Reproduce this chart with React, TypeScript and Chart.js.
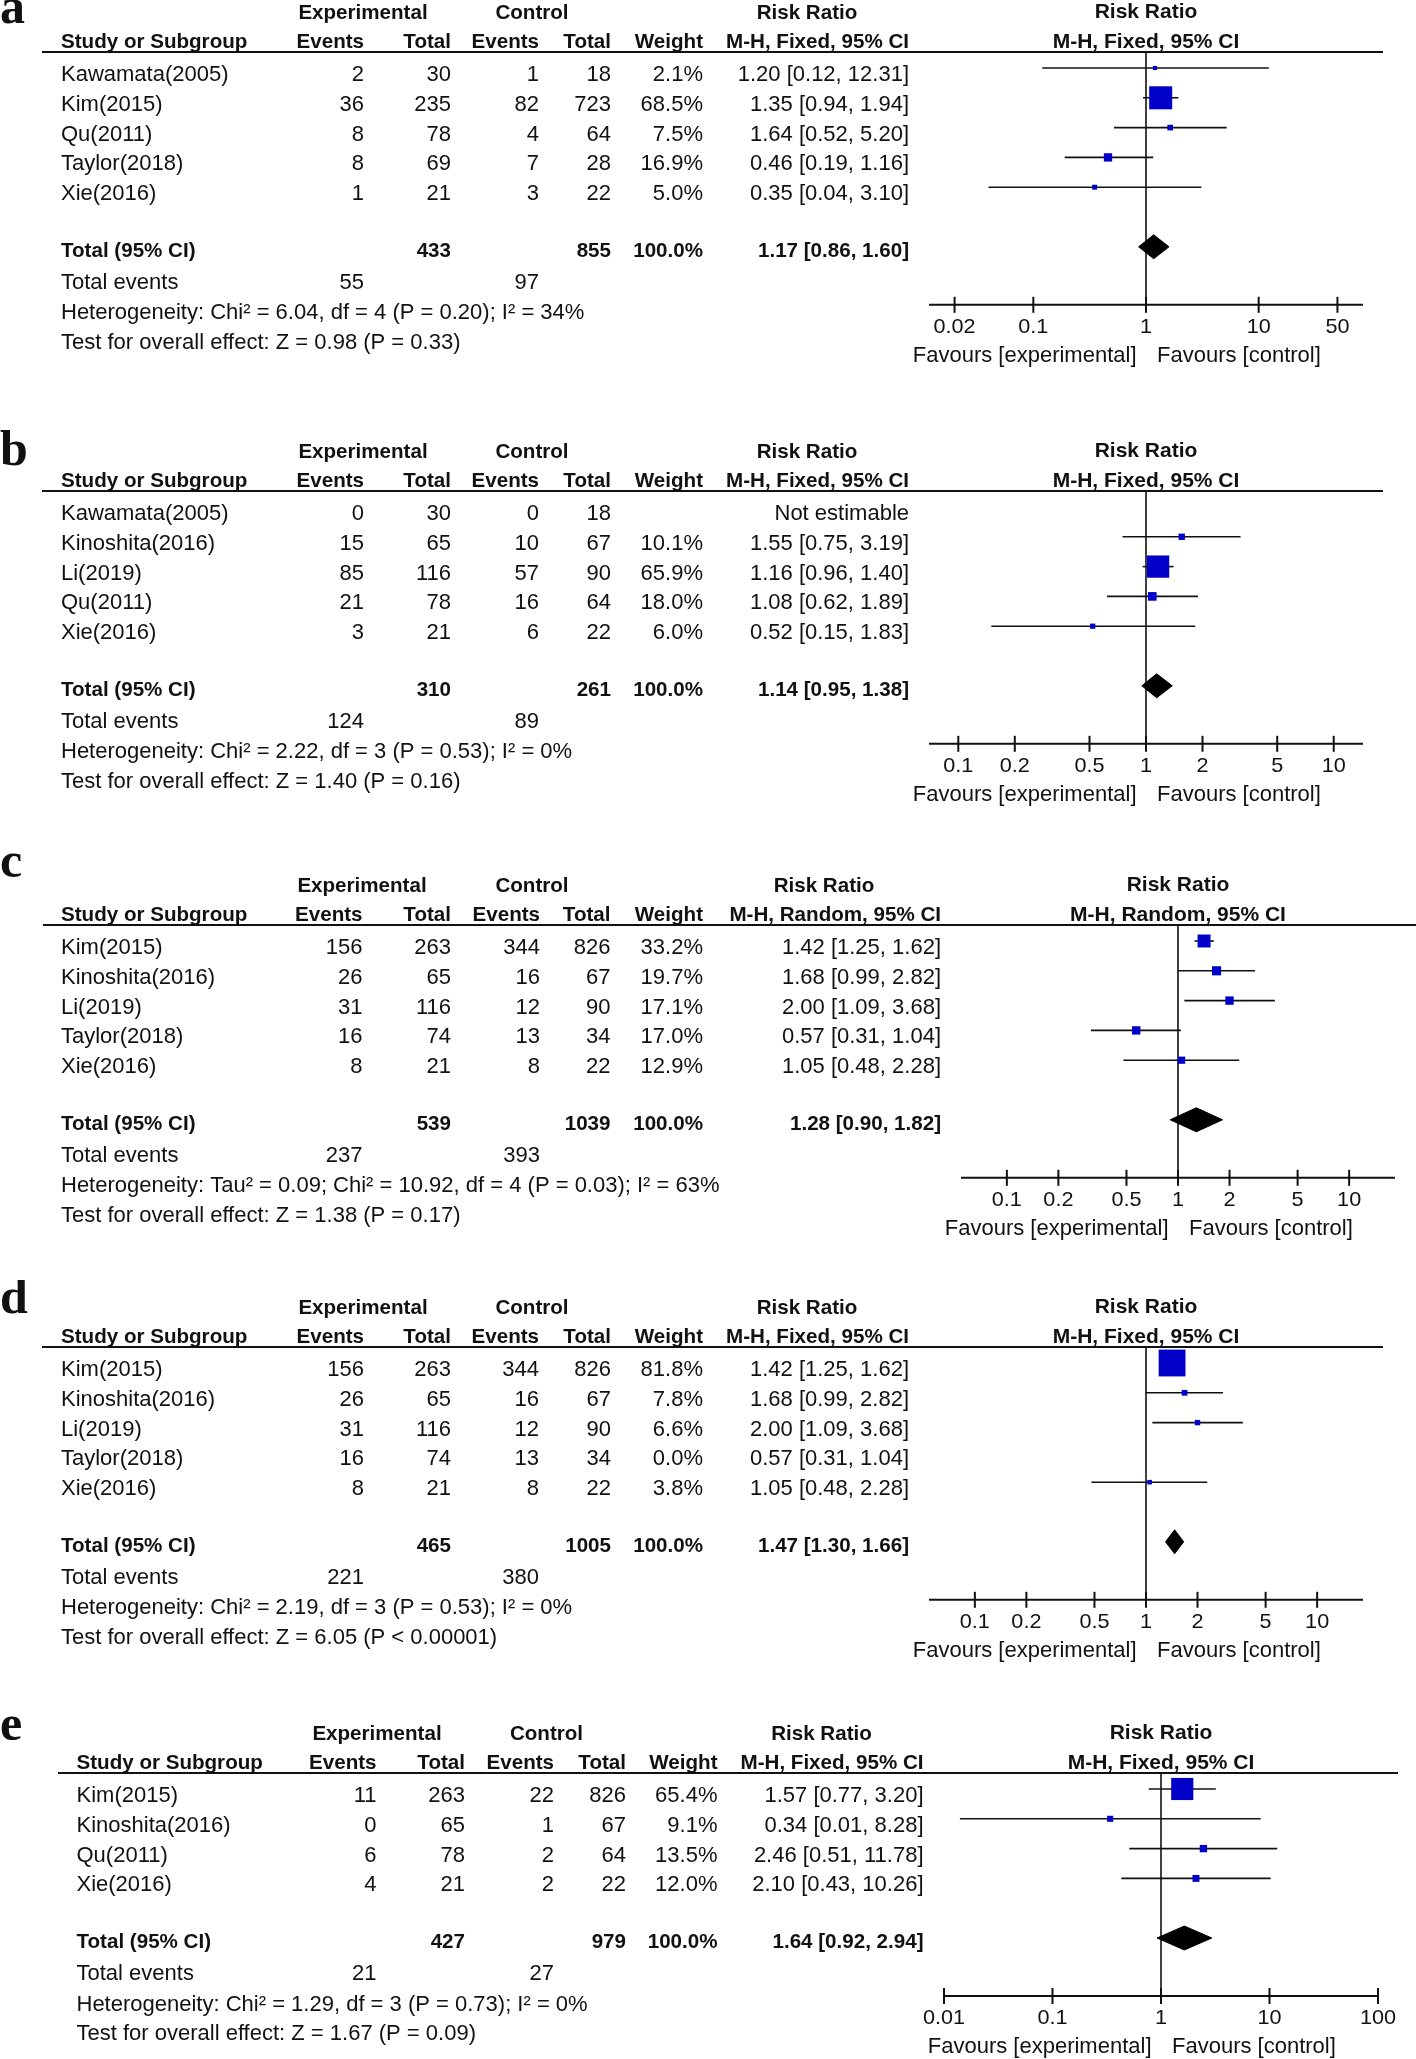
import React, { useEffect, useRef } from 'react';
import { Chart, registerables } from 'chart.js';

Chart.register(...registerables);

// ---------------- DATA ----------------
// Panel a
const aStudies = ['Kawamata(2005)', 'Kim(2015)', 'Qu(2011)', 'Taylor(2018)', 'Xie(2016)'];
const aExpEvents = [2, 36, 8, 8, 1];
const aExpTotal = [30, 235, 78, 69, 21];
const aCtlEvents = [1, 82, 4, 7, 3];
const aCtlTotal = [18, 723, 64, 28, 22];
const aWeight = [2.1, 68.5, 7.5, 16.9, 5.0];
const aRR = [1.2, 1.35, 1.64, 0.46, 0.35];
const aLow = [0.12, 0.94, 0.52, 0.19, 0.04];
const aHigh = [12.31, 1.94, 5.2, 1.16, 3.1];
const aPooled = [1.17, 0.86, 1.6];
const aTotals = [433, 855];
const aTotalEvents = [55, 97];
const aHeterogeneity = 'Heterogeneity: Chi² = 6.04, df = 4 (P = 0.20); I² = 34%';
const aOverall = 'Test for overall effect: Z = 0.98 (P = 0.33)';
const aTicks = [0.02, 0.1, 1, 10, 50];

// Panel b
const bStudies = ['Kawamata(2005)', 'Kinoshita(2016)', 'Li(2019)', 'Qu(2011)', 'Xie(2016)'];
const bExpEvents = [0, 15, 85, 21, 3];
const bExpTotal = [30, 65, 116, 78, 21];
const bCtlEvents = [0, 10, 57, 16, 6];
const bCtlTotal = [18, 67, 90, 64, 22];
const bWeight = [null, 10.1, 65.9, 18.0, 6.0];
const bRR = [null, 1.55, 1.16, 1.08, 0.52];
const bLow = [null, 0.75, 0.96, 0.62, 0.15];
const bHigh = [null, 3.19, 1.4, 1.89, 1.83];
const bPooled = [1.14, 0.95, 1.38];
const bTotals = [310, 261];
const bTotalEvents = [124, 89];
const bHeterogeneity = 'Heterogeneity: Chi² = 2.22, df = 3 (P = 0.53); I² = 0%';
const bOverall = 'Test for overall effect: Z = 1.40 (P = 0.16)';
const bTicks = [0.1, 0.2, 0.5, 1, 2, 5, 10];

// Panel c
const cStudies = ['Kim(2015)', 'Kinoshita(2016)', 'Li(2019)', 'Taylor(2018)', 'Xie(2016)'];
const cExpEvents = [156, 26, 31, 16, 8];
const cExpTotal = [263, 65, 116, 74, 21];
const cCtlEvents = [344, 16, 12, 13, 8];
const cCtlTotal = [826, 67, 90, 34, 22];
const cWeight = [33.2, 19.7, 17.1, 17.0, 12.9];
const cRR = [1.42, 1.68, 2.0, 0.57, 1.05];
const cLow = [1.25, 0.99, 1.09, 0.31, 0.48];
const cHigh = [1.62, 2.82, 3.68, 1.04, 2.28];
const cPooled = [1.28, 0.9, 1.82];
const cTotals = [539, 1039];
const cTotalEvents = [237, 393];
const cHeterogeneity = 'Heterogeneity: Tau² = 0.09; Chi² = 10.92, df = 4 (P = 0.03); I² = 63%';
const cOverall = 'Test for overall effect: Z = 1.38 (P = 0.17)';
const cTicks = [0.1, 0.2, 0.5, 1, 2, 5, 10];

// Panel d
const dStudies = ['Kim(2015)', 'Kinoshita(2016)', 'Li(2019)', 'Taylor(2018)', 'Xie(2016)'];
const dExpEvents = [156, 26, 31, 16, 8];
const dExpTotal = [263, 65, 116, 74, 21];
const dCtlEvents = [344, 16, 12, 13, 8];
const dCtlTotal = [826, 67, 90, 34, 22];
const dWeight = [81.8, 7.8, 6.6, 0.0, 3.8];
const dRR = [1.42, 1.68, 2.0, 0.57, 1.05];
const dLow = [1.25, 0.99, 1.09, 0.31, 0.48];
const dHigh = [1.62, 2.82, 3.68, 1.04, 2.28];
const dPooled = [1.47, 1.3, 1.66];
const dTotals = [465, 1005];
const dTotalEvents = [221, 380];
const dHeterogeneity = 'Heterogeneity: Chi² = 2.19, df = 3 (P = 0.53); I² = 0%';
const dOverall = 'Test for overall effect: Z = 6.05 (P < 0.00001)';
const dTicks = [0.1, 0.2, 0.5, 1, 2, 5, 10];

// Panel e
const eStudies = ['Kim(2015)', 'Kinoshita(2016)', 'Qu(2011)', 'Xie(2016)'];
const eExpEvents = [11, 0, 6, 4];
const eExpTotal = [263, 65, 78, 21];
const eCtlEvents = [22, 1, 2, 2];
const eCtlTotal = [826, 67, 64, 22];
const eWeight = [65.4, 9.1, 13.5, 12.0];
const eRR = [1.57, 0.34, 2.46, 2.1];
const eLow = [0.77, 0.014, 0.51, 0.43];
const eHigh = [3.2, 8.28, 11.78, 10.26];
const ePooled = [1.64, 0.92, 2.94];
const eTotals = [427, 979];
const eTotalEvents = [21, 27];
const eHeterogeneity = 'Heterogeneity: Chi² = 1.29, df = 3 (P = 0.73); I² = 0%';
const eOverall = 'Test for overall effect: Z = 1.67 (P = 0.09)';
const eTicks = [0.01, 0.1, 1, 10, 100];

const FIXED = 'M-H, Fixed, 95% CI';
const RANDOM = 'M-H, Random, 95% CI';

type PanelData = {
  letter: string;
  method: string;
  studies: string[];
  expEvents: number[];
  expTotal: number[];
  ctlEvents: number[];
  ctlTotal: number[];
  weight: (number | null)[];
  rr: (number | null)[];
  lo: (number | null)[];
  hi: (number | null)[];
  pooled: number[];
  totals: number[];
  totalEvents: number[];
  heterogeneity: string;
  overall: string;
  ticks: number[];
};

const PANELS: PanelData[] = [
  { letter: 'a', method: FIXED, studies: aStudies, expEvents: aExpEvents, expTotal: aExpTotal, ctlEvents: aCtlEvents, ctlTotal: aCtlTotal, weight: aWeight, rr: aRR, lo: aLow, hi: aHigh, pooled: aPooled, totals: aTotals, totalEvents: aTotalEvents, heterogeneity: aHeterogeneity, overall: aOverall, ticks: aTicks },
  { letter: 'b', method: FIXED, studies: bStudies, expEvents: bExpEvents, expTotal: bExpTotal, ctlEvents: bCtlEvents, ctlTotal: bCtlTotal, weight: bWeight, rr: bRR, lo: bLow, hi: bHigh, pooled: bPooled, totals: bTotals, totalEvents: bTotalEvents, heterogeneity: bHeterogeneity, overall: bOverall, ticks: bTicks },
  { letter: 'c', method: RANDOM, studies: cStudies, expEvents: cExpEvents, expTotal: cExpTotal, ctlEvents: cCtlEvents, ctlTotal: cCtlTotal, weight: cWeight, rr: cRR, lo: cLow, hi: cHigh, pooled: cPooled, totals: cTotals, totalEvents: cTotalEvents, heterogeneity: cHeterogeneity, overall: cOverall, ticks: cTicks },
  { letter: 'd', method: FIXED, studies: dStudies, expEvents: dExpEvents, expTotal: dExpTotal, ctlEvents: dCtlEvents, ctlTotal: dCtlTotal, weight: dWeight, rr: dRR, lo: dLow, hi: dHigh, pooled: dPooled, totals: dTotals, totalEvents: dTotalEvents, heterogeneity: dHeterogeneity, overall: dOverall, ticks: dTicks },
  { letter: 'e', method: FIXED, studies: eStudies, expEvents: eExpEvents, expTotal: eExpTotal, ctlEvents: eCtlEvents, ctlTotal: eCtlTotal, weight: eWeight, rr: eRR, lo: eLow, hi: eHigh, pooled: ePooled, totals: eTotals, totalEvents: eTotalEvents, heterogeneity: eHeterogeneity, overall: eOverall, ticks: eTicks },
];

// ---------------- LAYOUT / STYLE ----------------
const W = 1416;
const ROW0 = 68;
const ROWH = 29.8;
const HEADER_RULE = 52;
const AXIS_GAP = 58;
const HALF_AXIS = 217;

type Cols = { study: number; expEv: number; expTot: number; ctlEv: number; ctlTot: number; weight: number; ci: number };
type Layout = {
  canvasH: number; off: number; letterY: number; vline: number; D: number;
  lineL: number; lineR: number; cols: Cols; hExp: number; hCtl: number; hRR: number;
};

const colsA: Cols = { study: 61, expEv: 364, expTot: 451, ctlEv: 539, ctlTot: 611, weight: 703, ci: 909 };
const colsC: Cols = { study: 61, expEv: 362.5, expTot: 451, ctlEv: 540, ctlTot: 610.5, weight: 703, ci: 941 };
const colsE: Cols = { study: 76.5, expEv: 376.5, expTot: 465, ctlEv: 554, ctlTot: 626, weight: 717.5, ci: 923.5 };

const LAYOUTS: Layout[] = [
  { canvasH: 430, off: 0, letterY: 23, vline: 1146, D: 1.926, lineL: 42, lineR: 1383, cols: colsA, hExp: 363, hCtl: 532, hRR: 807 },
  { canvasH: 420, off: 9, letterY: 35, vline: 1146, D: 1.156, lineL: 42, lineR: 1383, cols: colsA, hExp: 363, hCtl: 532, hRR: 807 },
  { canvasH: 430, off: 23, letterY: 27, vline: 1178, D: 1.268, lineL: 43, lineR: 1416, cols: colsC, hExp: 362, hCtl: 532, hRR: 824 },
  { canvasH: 420, off: 15, letterY: 33, vline: 1146, D: 1.268, lineL: 42, lineR: 1383, cols: colsA, hExp: 363, hCtl: 532, hRR: 807 },
  { canvasH: 359, off: 21, letterY: 40, vline: 1161, D: 2.0, lineL: 58, lineR: 1398, cols: colsE, hExp: 377, hCtl: 546.5, hRR: 821.5 },
];

const SANS = '"Liberation Sans", Arial, sans-serif';
const SERIF = '"Liberation Serif", "Times New Roman", serif';
const INK = '#111111';
const BLUE = '#0000c8';

type TStyle = { font: string; hs: number };
const TN: TStyle = { font: `22px ${SANS}`, hs: 1.0 };
const TB: TStyle = { font: `bold 21px ${SANS}`, hs: 0.98 };
const PB: TStyle = { font: `bold 21px ${SANS}`, hs: 1.0 };
const PT: TStyle = { font: `21px ${SANS}`, hs: 1.03 };
const PF: TStyle = { font: `22px ${SANS}`, hs: 1.0 };
const LT: TStyle = { font: `bold 50px ${SERIF}`, hs: 1.0 };

function txt(ctx: CanvasRenderingContext2D, s: string, x: number, y: number, st: TStyle, align: 'left' | 'right' | 'center', baseline: CanvasTextBaseline = 'middle') {
  if (!s) return;
  ctx.save();
  ctx.font = st.font;
  ctx.textBaseline = baseline;
  ctx.textAlign = 'left';
  ctx.fillStyle = INK;
  const w = ctx.measureText(s).width * st.hs;
  const left = align === 'right' ? x - w : align === 'center' ? x - w / 2 : x;
  ctx.translate(left, y);
  ctx.scale(st.hs, 1);
  ctx.fillText(s, 0, 0);
  ctx.restore();
}

function seg(ctx: CanvasRenderingContext2D, x1: number, y1: number, x2: number, y2: number) {
  ctx.beginPath();
  ctx.moveTo(x1, y1);
  ctx.lineTo(x2, y2);
  ctx.stroke();
}

const fmtCI = (rr: number, lo: number, hi: number) => `${rr.toFixed(2)} [${lo.toFixed(2)}, ${hi.toFixed(2)}]`;
const sideFor = (w: number) => 3.5 + 0.285 * w;

function makePlugin(d: PanelData, L: Layout) {
  return {
    id: 'forest_' + d.letter,
    beforeDatasetsDraw(chart: any) {
      const { ctx, chartArea: ca, scales } = chart;
      const xs = scales.x;
      const x1 = xs.getPixelForValue(1);
      ctx.save();
      ctx.strokeStyle = INK;
      ctx.lineWidth = 2;
      seg(ctx, L.lineL, ca.top, L.lineR, ca.top);
      ctx.lineWidth = 1.6;
      seg(ctx, x1, ca.top, x1, ca.bottom);
      ctx.lineWidth = 2;
      seg(ctx, ca.left, ca.bottom, ca.right, ca.bottom);
      d.ticks.forEach((t) => {
        const px = xs.getPixelForValue(t);
        seg(ctx, px, ca.bottom - 8, px, ca.bottom + 8);
      });
      ctx.restore();
    },
    afterDatasetsDraw(chart: any) {
      const { ctx, chartArea: ca, scales } = chart;
      const xs = scales.x;
      const ys = scales.y;
      const x1 = xs.getPixelForValue(1);
      const C = L.cols;
      const off = L.off;
      const rowY = (k: number, dy: number) => ys.getPixelForValue(k) + dy;
      const n = d.studies.length;

      txt(ctx, d.letter, 0, L.letterY, LT, 'left', 'alphabetic');

      txt(ctx, 'Experimental', L.hExp, off + 13, TB, 'center');
      txt(ctx, 'Control', L.hCtl, off + 13, TB, 'center');
      txt(ctx, 'Risk Ratio', L.hRR, off + 13, TB, 'center');
      txt(ctx, 'Study or Subgroup', C.study, off + 42.5, TB, 'left');
      txt(ctx, 'Events', C.expEv, off + 42.5, TB, 'right');
      txt(ctx, 'Total', C.expTot, off + 42.5, TB, 'right');
      txt(ctx, 'Events', C.ctlEv, off + 42.5, TB, 'right');
      txt(ctx, 'Total', C.ctlTot, off + 42.5, TB, 'right');
      txt(ctx, 'Weight', C.weight, off + 42.5, TB, 'right');
      txt(ctx, d.method, C.ci, off + 42.5, TB, 'right');

      txt(ctx, 'Risk Ratio', x1, off + 12.5, PB, 'center');
      txt(ctx, d.method, x1, off + 42.5, PB, 'center');

      d.studies.forEach((s, i) => {
        const y = rowY(i, 7);
        txt(ctx, s, C.study, y, TN, 'left');
        txt(ctx, String(d.expEvents[i]), C.expEv, y, TN, 'right');
        txt(ctx, String(d.expTotal[i]), C.expTot, y, TN, 'right');
        txt(ctx, String(d.ctlEvents[i]), C.ctlEv, y, TN, 'right');
        txt(ctx, String(d.ctlTotal[i]), C.ctlTot, y, TN, 'right');
        const w = d.weight[i];
        txt(ctx, w == null ? '' : w.toFixed(1) + '%', C.weight, y, TN, 'right');
        const rr = d.rr[i], lo = d.lo[i], hi = d.hi[i];
        txt(ctx, rr == null || lo == null || hi == null ? 'Not estimable' : fmtCI(rr, lo, hi), C.ci, y, TN, 'right');
      });

      const yt = rowY(n + 1, 4.5);
      txt(ctx, 'Total (95% CI)', C.study, yt, TB, 'left');
      txt(ctx, String(d.totals[0]), C.expTot, yt, TB, 'right');
      txt(ctx, String(d.totals[1]), C.ctlTot, yt, TB, 'right');
      txt(ctx, '100.0%', C.weight, yt, TB, 'right');
      txt(ctx, fmtCI(d.pooled[0], d.pooled[1], d.pooled[2]), C.ci, yt, TB, 'right');

      const ye = rowY(n + 2, 6.5);
      txt(ctx, 'Total events', C.study, ye, TN, 'left');
      txt(ctx, String(d.totalEvents[0]), C.expEv, ye, TN, 'right');
      txt(ctx, String(d.totalEvents[1]), C.ctlEv, ye, TN, 'right');
      txt(ctx, d.heterogeneity, C.study, rowY(n + 3, 7), TN, 'left');
      txt(ctx, d.overall, C.study, rowY(n + 4, 6.5), TN, 'left');

      d.ticks.forEach((t) => {
        txt(ctx, String(t), xs.getPixelForValue(t), ca.bottom + 22, PT, 'center');
      });
      txt(ctx, 'Favours [experimental]', x1 - 9.5, ca.bottom + 51, PF, 'right');
      txt(ctx, 'Favours [control]', x1 + 11, ca.bottom + 51, PF, 'left');
    },
  };
}

function buildConfig(d: PanelData, L: Layout): any {
  const n = d.studies.length;
  const axisLocal = ROW0 + ROWH * (n + 1) + AXIS_GAP;
  const yMin = (HEADER_RULE - ROW0) / ROWH;
  const yMax = n + 1 + AXIS_GAP / ROWH;

  const datasets: any[] = [];
  const squares: { x: number; y: number }[] = [];
  const radii: number[] = [];
  d.studies.forEach((_, i) => {
    const w = d.weight[i], rr = d.rr[i], lo = d.lo[i], hi = d.hi[i];
    if (w == null || w <= 0 || rr == null || lo == null || hi == null) return;
    datasets.push({
      type: 'line',
      data: [{ x: lo, y: i }, { x: hi, y: i }],
      borderColor: INK,
      borderWidth: 1.6,
      pointRadius: 0,
      fill: false,
      clip: false,
      order: 3,
    });
    squares.push({ x: rr, y: i });
    radii.push(sideFor(w) / Math.SQRT2);
  });
  datasets.push({
    type: 'scatter',
    data: squares,
    pointStyle: 'rect',
    pointRadius: radii,
    backgroundColor: BLUE,
    pointBackgroundColor: BLUE,
    borderColor: BLUE,
    pointBorderColor: BLUE,
    pointBorderWidth: 0,
    borderWidth: 0,
    clip: false,
    order: 1,
  });
  const t = n + 1;
  const h = 12 / ROWH;
  const [prr, plo, phi] = d.pooled;
  datasets.push({
    type: 'line',
    data: [
      { x: plo, y: t },
      { x: prr, y: t - h },
      { x: phi, y: t },
      { x: prr, y: t + h },
      { x: plo, y: t },
    ],
    fill: 'shape',
    backgroundColor: '#000000',
    borderColor: '#000000',
    borderWidth: 1,
    pointRadius: 0,
    tension: 0,
    clip: false,
    order: 0,
  });

  return {
    type: 'scatter',
    data: { datasets },
    options: {
      responsive: false,
      animation: false,
      events: [],
      layout: {
        padding: {
          left: L.vline - HALF_AXIS,
          right: W - (L.vline + HALF_AXIS),
          top: L.off + HEADER_RULE,
          bottom: L.canvasH - (L.off + axisLocal),
        },
      },
      plugins: {
        legend: { display: false },
        tooltip: { enabled: false },
        title: { display: false },
      },
      scales: {
        x: { type: 'logarithmic', min: Math.pow(10, -L.D), max: Math.pow(10, L.D), bounds: 'data', display: false },
        y: { type: 'linear', min: yMin, max: yMax, reverse: true, bounds: 'data', display: false },
      },
    },
    plugins: [makePlugin(d, L)],
  };
}

function ForestPanel({ d, L }: { d: PanelData; L: Layout }) {
  const ref = useRef<HTMLCanvasElement | null>(null);
  useEffect(() => {
    const canvas = ref.current;
    if (!canvas) return;
    const chart = new Chart(canvas, buildConfig(d, L));
    return () => chart.destroy();
  }, [d, L]);
  return <canvas ref={ref} width={W} height={L.canvasH} style={{ display: 'block', width: W, height: L.canvasH }} />;
}

export default function App() {
  useEffect(() => {
    document.body.style.margin = '0';
    document.body.style.background = '#ffffff';
  }, []);
  return (
    <div style={{ width: W, background: '#ffffff' }}>
      <style>{'body{margin:0;background:#fff}'}</style>
      {PANELS.map((p, i) => (
        <ForestPanel key={p.letter} d={p} L={LAYOUTS[i]} />
      ))}
    </div>
  );
}
